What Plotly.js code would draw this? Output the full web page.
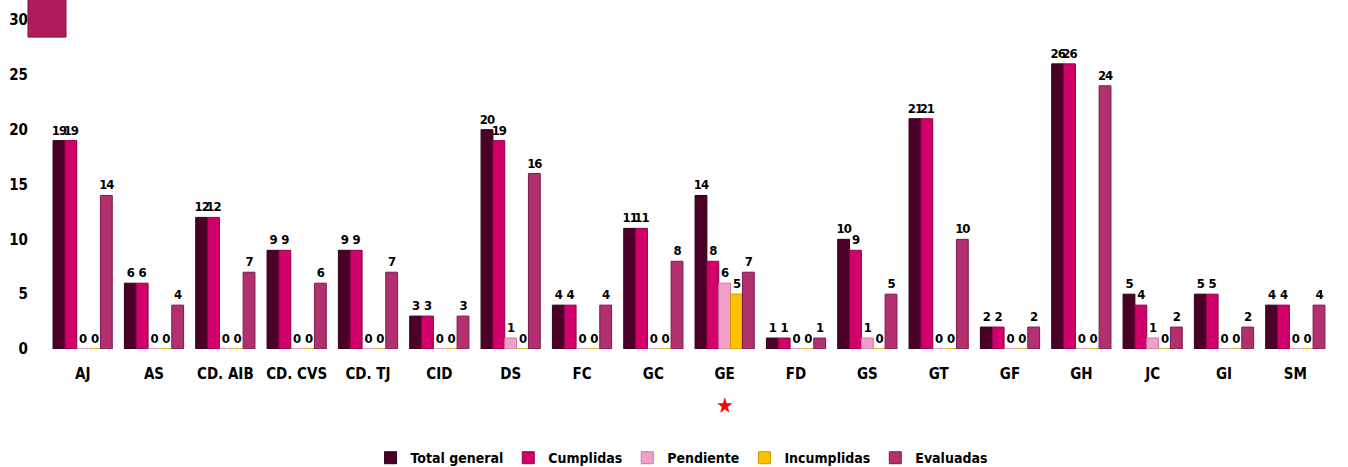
<!DOCTYPE html>
<html>
<head>
<meta charset="utf-8">
<script src="https://cdn.plot.ly/plotly-3.0.1.min.js"></script>
<style>html,body{margin:0;padding:0;background:#fff;}#chart{width:1348px;height:467px;}
#chart .bartext{letter-spacing:-1px;}</style>
</head>
<body>
<div id="chart"></div>
<script>
const categories = ["AJ","AS","CD. AIB","CD. CVS","CD. TJ","CID","DS","FC","GC","GE","FD","GS","GT","GF","GH","JC","GI","SM"];
const totalGeneral = [19,6,12,9,9,3,20,4,11,14,1,10,21,2,26,5,5,4];
const cumplidas    = [19,6,12,9,9,3,19,4,11,8,1,9,21,2,26,4,5,4];
const pendiente    = [0,0,0,0,0,0,1,0,0,6,0,1,0,0,0,1,0,0];
const incumplidas  = [0,0,0,0,0,0,0,0,0,5,0,0,0,0,0,0,0,0];
const evaluadas    = [14,4,7,6,7,3,16,4,8,7,1,5,10,2,24,2,2,4];
const seriesNames  = ["Total general","Cumplidas","Pendiente","Incumplidas","Evaluadas"];
const seriesColors = ["#4a0027","#d1006a","#f0a0c8","#ffc000","#b3306f"];
const seriesLines  = ["#2e0018","#8e0048","#c87aa3","#c99600","#7a1d4b"];
const seriesData = [totalGeneral,cumplidas,pendiente,incumplidas,evaluadas];

const FONT = "'DejaVu Sans Condensed','Liberation Sans Narrow','Arial Narrow',sans-serif";

const traces = seriesData.map((vals,i)=>({
  type:'bar',
  name:seriesNames[i],
  x:categories,
  y:vals,
  marker:{color:seriesColors[i], line:{color:seriesLines[i], width:1}},
  text:vals.map(String),
  textposition:'outside',
  constraintext:'none',
  cliponaxis:false,
  textfont:{family:FONT, size:13, color:'#000', weight:'bold'}
}));

const layout = {
  width:1348, height:467,
  margin:{l:47, r:17, t:20, b:118, autoexpand:false},
  paper_bgcolor:'#fff', plot_bgcolor:'#fff',
  barmode:'group', bargap:0.17, bargroupgap:0,
  showlegend:true,
  legend:{orientation:'h', x:0.5056, xref:'container', xanchor:'center', y:0.019, yref:'container', yanchor:'middle',
    font:{family:FONT, size:14, color:'#000', weight:'bold'}, itemwidth:30, traceorder:'normal'},
  xaxis:{type:'category', showgrid:false, zeroline:false, showline:false, ticks:'', automargin:false,
    tickfont:{family:FONT, size:15, color:'#000', weight:'bold'}, ticklabelstandoff:14},
  yaxis:{range:[0,30], dtick:5, showgrid:false, zeroline:false, showline:false, ticks:'', automargin:false,
    tickfont:{family:FONT, size:15, color:'#000', weight:'bold'}, ticklabelstandoff:18},
  font:{family:FONT},
  shapes:[{type:'rect', xref:'paper', yref:'paper', x0:-0.0148, x1:0.0148, y0:0.948, y1:1.07,
    fillcolor:'#b01c5a', line:{color:'#7a1240', width:1}}],
  annotations:[{x:'GE', xref:'x', y:-0.215, yref:'paper', text:'★', showarrow:false,
    font:{size:22, color:'#ff0000'}}]
};

Plotly.newPlot('chart', traces, layout, {displayModeBar:false, staticPlot:true});
</script>
</body>
</html>
